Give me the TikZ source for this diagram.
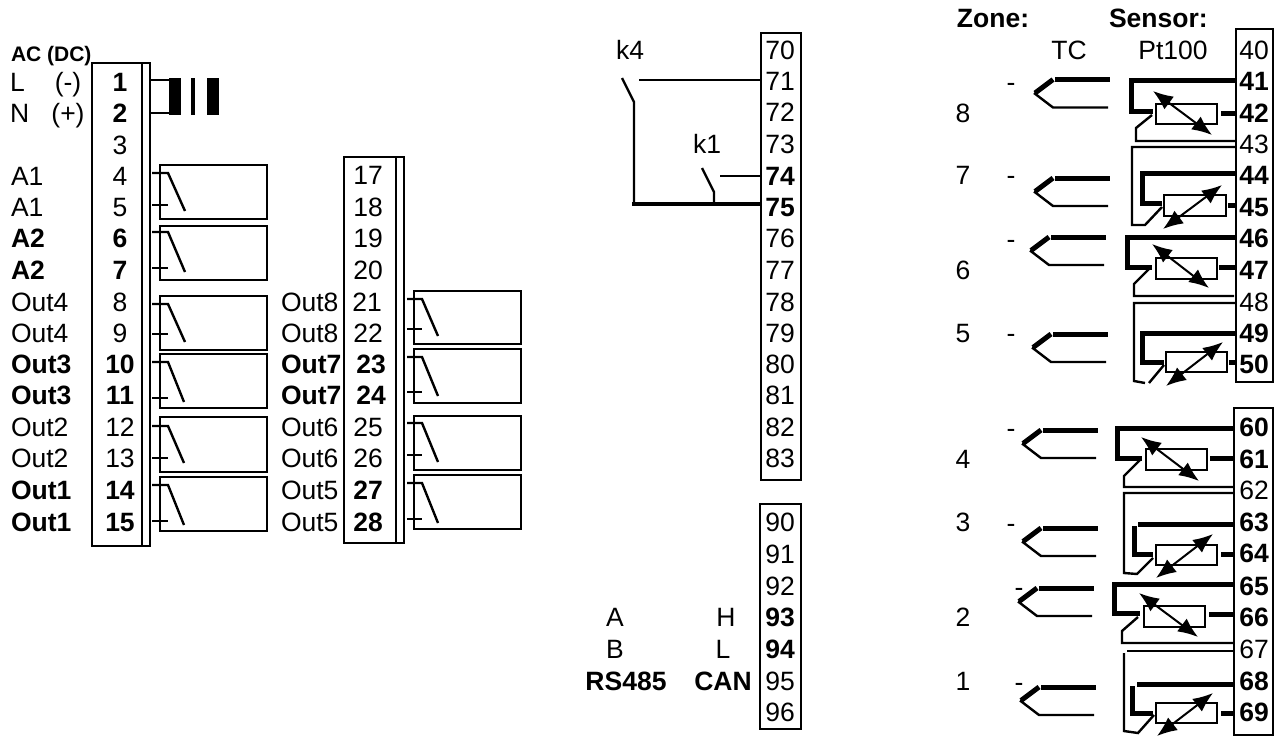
\documentclass[tikz,border=0pt]{standalone}
\usepackage{fontspec}
\setmainfont{Liberation Sans}
\usetikzlibrary{arrows.meta}
\tikzset{
  lab/.style={inner sep=0pt,outer sep=0pt,anchor=base,yshift=-9.5pt,font=\fontsize{26.5}{30}\selectfont},
  labl/.style={lab,anchor=base west},
  blab/.style={lab,font=\fontsize{26.5}{30}\selectfont\bfseries},
  blabl/.style={labl,font=\fontsize{26.5}{30}\selectfont\bfseries},
  block/.style={draw=black,line width=2.4pt,fill=none},
  relaybox/.style={draw=black,line width=2.4pt},
  wire/.style={line width=2.4pt,line cap=butt,line join=miter},
  thickwire/.style={line width=5pt,line cap=butt,line join=miter},
  adjarrow/.style={line width=2pt,{Latex[length=20pt,width=16pt]}-{Latex[length=20pt,width=16pt]}},
}
% relay: x stub start, x stub end, top stub y, lower stub y, diag end x, diag end y
\newcommand{\relaysym}[6]{%
  \draw[wire] (#1,#3) -- (#2,#3) -- (#5,#6);
  \draw[wire] (#1,#4) -- (#2,#4);
}
% thermocouple: apex x, top y
\newcommand{\tcsym}[2]{%
  \draw[thickwire] (#1+19,#2) -- (#1+1,#2+13.5);
  \draw[thickwire] (#1+21,#2) -- (#1+76,#2);
  \draw[wire] (#1,#2+13.5) -- (#1+19,#2+28) -- (#1+74,#2+28);
}
\begin{document}
\begin{tikzpicture}[x=1pt,y=-1pt]
\useasboundingbox (0,0) rectangle (1274,736);
% ---- block 1
\draw[block] (92,63) rectangle (150,546);
\draw[block] (142,63) -- (142,546);
\node[blabl,font=\fontsize{21}{24}\selectfont\bfseries] (acdc) at (11,51.5) {AC (DC)};
\node[labl] (lL) at (10,82) {L};
\node[lab] (lm) at (68,82) {(-)};
\node[labl] (lN) at (10,113) {N};
\node[lab] (lp) at (68,113) {(+)};
\foreach \n/\y/\s/\t in {1/82/blab/,2/113/blab/,3/145/lab/,4/176/lab/A1,5/207/lab/A1,6/238/blab/A2,7/270/blab/A2,8/302/lab/Out4,9/333/lab/Out4,10/364/blab/Out3,11/395/blab/Out3,12/427/lab/Out2,13/458/lab/Out2,14/490/blab/Out1,15/522/blab/Out1}{
  \node[\s] (t\n) at (120,\y) {\n};
  \node[\s,anchor=base west] (n\n) at (11,\y) {\t};
}
% power
\draw[wire] (150,80) -- (170,80);
\draw[wire] (150,113) -- (170,113);
\fill (169,78) rectangle (181,115);
\fill (191,78) rectangle (195,115);
\fill (207,78) rectangle (219,115);
% relays left
\foreach \a/\b in {165/219,226/280,296/350,354/408,417/472,477/531}{
  \draw[relaybox] (160,\a) rectangle (267,\b);
}
\relaysym{152}{168}{173}{205}{185}{211}
\relaysym{152}{168}{232}{268}{185}{272}
\relaysym{152}{168}{304}{334}{185}{342}
\relaysym{152}{168}{362}{398}{184}{402}
\relaysym{152}{168}{426}{458}{184}{463}
\relaysym{152}{168}{485}{521}{184}{525}
% ---- block 2
\draw[block] (344,157) rectangle (404,543);
\draw[block] (396,157) -- (396,543);
\foreach \n/\y/\x/\s in {17/175/368/lab,18/207/368/lab,19/238/368/lab,20/270/368/lab,21/302/367/lab,22/333/368/lab,23/364/371/blab,24/395/371/blab,25/427/368/lab,26/458/368/lab,27/490/368/blab,28/522/368/blab}{
  \node[\s] (t\n) at (\x,\y) {\n};
}
\foreach \m/\y/\t/\s in {a/302/Out8/labl,b/333/Out8/labl,c/364/Out7/blabl,d/395/Out7/blabl,e/427/Out6/labl,f/458/Out6/labl,g/490/Out5/labl,h/522/Out5/labl}{
  \node[\s] (o\m) at (281,\y) {\t};
}
\foreach \a/\b in {291/344,349/403,416/470,475/529}{
  \draw[relaybox] (414,\a) rectangle (521,\b);
}
\relaysym{407}{422}{299}{329}{438}{336}
\relaysym{407}{422}{357}{392}{438}{396}
\relaysym{407}{422}{423}{455}{438}{462}
\relaysym{407}{422}{483}{519}{438}{523}
% ---- block 3
\draw[block] (761,33) rectangle (801,480);
\foreach \n/\y/\s in {70/50/lab,71/81/lab,72/112/lab,73/144/lab,74/176/blab,75/207/blab,76/238/lab,77/270/lab,78/302/lab,79/333/lab,80/364/lab,81/395/lab,82/427/lab,83/458/lab}{
  \node[\s] (t\n) at (780,\y) {\n};
}
\node[lab] (k4) at (630,50) {k4};
\node[lab] (k1) at (707,144) {k1};
\draw[wire] (639,80) -- (761,80);
\draw[wire] (622,78) -- (634,102) -- (634,204);
\draw[line width=4.5pt] (632,204) -- (761,204);
\draw[wire] (720,176) -- (761,176);
\draw[wire] (702,168) -- (714,192) -- (714,204);
% ---- block 4
\draw[block] (760,504) rectangle (801,729);
\foreach \n/\y/\s in {90/522/lab,91/554/lab,92/586/lab,93/617/blab,94/649/blab,95/681/lab,96/712/lab}{
  \node[\s] (t\n) at (780,\y) {\n};
}
\node[lab] (lA) at (615,617) {A};
\node[lab] (lB) at (615,649) {B};
\node[blab] (lrs) at (626,681) {RS485};
\node[lab] (lH) at (726,617) {H};
\node[lab] (lLL) at (723,649) {L};
\node[blab] (lcan) at (723,681) {CAN};
% ---- right blocks
\draw[block] (1236,29) rectangle (1273,382);
\draw[block] (1234,408) rectangle (1273,735);
\node[blab] (zone) at (993,18) {Zone:};
\node[blabl] (sens) at (1109,18) {Sensor:};
\node[lab] (tc) at (1069,50) {TC};
\node[lab] (pt) at (1173,50) {Pt100};
\foreach \n/\y/\s in {40/50/lab,41/81/blab,42/113/blab,43/144/lab,44/175/blab,45/207/blab,46/238/blab,47/270/blab,48/302/lab,49/333/blab,50/364/blab,60/427/blab,61/459/blab,62/490/lab,63/522/blab,64/553/blab,65/586/blab,66/617/blab,67/649/lab,68/681/blab,69/712/blab}{
  \node[\s] (t\n) at (1254,\y) {\n};
}
\foreach \z/\y in {8/113,7/175,6/270,5/333,4/459,3/522,2/617,1/681}{
  \node[lab] (z\z) at (963,\y) {\z};
}
\foreach \m/\x/\y in {a/1011/82,b/1011/175,c/1011/239,d/1011/333,e/1011/428,f/1011/523,g/1019/587,h/1019/682}{
  \node[lab] (d\m) at (\x,\y) {-};
}
\tcsym{1034}{79.5}
\tcsym{1034}{178}
\tcsym{1030}{237}
\tcsym{1032}{334}
\tcsym{1022}{430}
\tcsym{1022}{528}
\tcsym{1018}{588}
\tcsym{1020}{687}
% zone 8
\draw[thickwire] (1236,80) -- (1131,80) -- (1131,111) -- (1153,111);
\draw[wire] (1156,104) rectangle (1217,124);
\draw[thickwire] (1221,113) -- (1236,113);
\draw[wire] (1152,115) -- (1136,128) -- (1136,141) -- (1236,141);
\draw[adjarrow] (1153,91) -- (1212,135);
% zone 7
\draw[wire] (1236,147) -- (1132,147) -- (1132,225) -- (1145,225) -- (1162,207);
\draw[thickwire] (1236,173) -- (1142,173) -- (1142,203) -- (1162,203);
\draw[wire] (1164,195) rectangle (1226,216);
\draw[thickwire] (1228,205) -- (1236,205);
\draw[adjarrow] (1163,229) -- (1222,185);
% zone 6
\draw[thickwire] (1236,237) -- (1127,237) -- (1127,267) -- (1152,267);
\draw[wire] (1156,258) rectangle (1217,279);
\draw[thickwire] (1219,267) -- (1236,267);
\draw[wire] (1150,268) -- (1134,284) -- (1134,296) -- (1234,296);
\draw[adjarrow] (1152,244) -- (1209,288);
% zone 5
\draw[wire] (1236,303) -- (1134,303) -- (1134,381) -- (1145,383);
\draw[wire] (1149,383) -- (1164,365);
\draw[thickwire] (1236,333) -- (1142,333) -- (1142,362) -- (1164,362);
\draw[wire] (1166,352) rectangle (1227,372);
\draw[thickwire] (1229,362) -- (1236,362);
\draw[adjarrow] (1166,386) -- (1223,342);
% zone 4
\draw[thickwire] (1234,428) -- (1117,428) -- (1117,458) -- (1142,458);
\draw[wire] (1146,449) rectangle (1207,470);
\draw[thickwire] (1210,458) -- (1234,458);
\draw[wire] (1140,460) -- (1124,476) -- (1124,487) -- (1234,487);
\draw[adjarrow] (1141,437) -- (1199,481);
% zone 3
\draw[wire] (1234,493) -- (1124,493) -- (1124,573) -- (1137,574) -- (1153,558);
\draw[thickwire] (1234,524) -- (1138,524);
\draw[thickwire] (1134,526) -- (1134,554) -- (1153,554);
\draw[wire] (1156,545) rectangle (1217,565);
\draw[thickwire] (1221,554) -- (1234,554);
\draw[adjarrow] (1156,578) -- (1213,534);
% zone 2
\draw[thickwire] (1234,584) -- (1114,584) -- (1114,613.5) -- (1140,613.5);
\draw[wire] (1144,606) rectangle (1205,627);
\draw[thickwire] (1209,614) -- (1234,614);
\draw[wire] (1138,617) -- (1122,631) -- (1122,643) -- (1234,643);
\draw[adjarrow] (1139,593) -- (1198,637);
% zone 1
\draw[wire] (1234,651) -- (1127,651);
\draw[wire] (1124,653) -- (1124,731) -- (1138,733) -- (1154,715);
\draw[thickwire] (1234,684) -- (1137,684);
\draw[thickwire] (1132,686) -- (1132,713) -- (1153,713);
\draw[wire] (1156,703) rectangle (1217,723);
\draw[thickwire] (1221,713) -- (1234,713);
\draw[adjarrow] (1157,736) -- (1213,693);
\end{tikzpicture}
\end{document}
